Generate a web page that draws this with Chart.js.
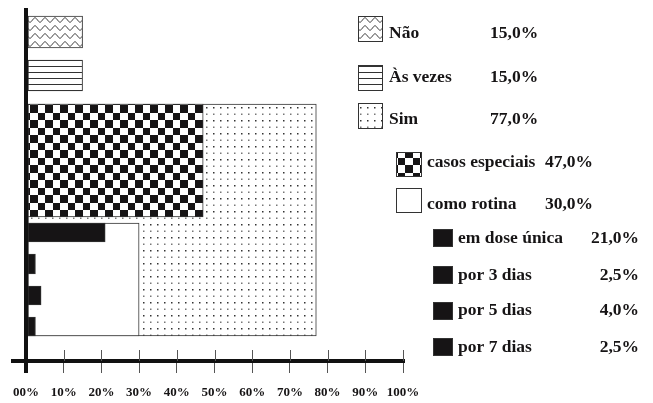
<!DOCTYPE html>
<html>
<head>
<meta charset="utf-8">
<script src="https://cdn.jsdelivr.net/npm/chart.js@4/dist/chart.umd.min.js"></script>
<style>
  body { margin: 0; background: #fff; }
  canvas { display: block; }
</style>
</head>
<body>
<canvas id="chart" width="653" height="403"></canvas>
<script>
const mainLabels = ["Não", "Às vezes", "Sim"];
const mainValues = [15, 15, 77];
const simLabels = ["casos especiais", "como rotina"];
const simValues = [47, 30];
const doseLabels = ["em dose única", "por 3 dias", "por 5 dias", "por 7 dias"];
const doseValues = [21, 2.5, 4, 2.5];
const tickValues = [0, 10, 20, 30, 40, 50, 60, 70, 80, 90, 100];
const tickLabels = ["00%", "10%", "20%", "30%", "40%", "50%", "60%", "70%", "80%", "90%", "100%"];

// row centre and thickness (px) on the hidden y scale, 0 = top of plot
const rows = {
  "Não": [22, 32],
  "Às vezes": [65.5, 31],
  "Sim": [210, 232],
  "casos especiais": [150.5, 113],
  "como rotina": [269.5, 113],
  "em dose única": [222.5, 19],
  "por 3 dias": [254, 20],
  "por 5 dias": [285.5, 19],
  "por 7 dias": [316.5, 19]
};

const FONT = '"Liberation Serif", "Times New Roman", serif';
const INK = "#161415";

function tile(w, h, draw) {
  const c = document.createElement("canvas");
  c.width = w; c.height = h;
  const g = c.getContext("2d");
  g.fillStyle = "#fff";
  g.fillRect(0, 0, w, h);
  draw(g);
  return g.createPattern(c, "repeat");
}

const waves = tile(10, 8, g => {
  g.strokeStyle = "#333"; g.lineWidth = 1;
  g.beginPath();
  for (let x = -1; x <= 11; x += 0.5) {
    const y = 4 + 2.2 * Math.cos(2 * Math.PI * x / 10);
    x === -1 ? g.moveTo(x, y) : g.lineTo(x, y);
  }
  g.stroke();
});
const lines = tile(6, 6, g => { g.fillStyle = "#333"; g.fillRect(0, 0, 6, 1); });
const dots = tile(7, 13, g => {
  g.fillStyle = "#333"; g.fillRect(3, 3, 1.5, 1.5);
  g.fillStyle = "#777"; g.fillRect(3, 9.5, 1.5, 1.5);
});
const checker = tile(15, 15, g => {
  g.fillStyle = INK;
  g.fillRect(0, 0, 8, 8);
  g.fillRect(8, 8, 7, 7);
});

const fills = {
  "Não": waves, "Às vezes": lines, "Sim": dots,
  "casos especiais": checker, "como rotina": "#fff"
};
// lower order is drawn on top
const orders = { "Sim": 3, "casos especiais": 2, "como rotina": 2 };

const datasets = [];
function addGroup(labels, values) {
  labels.forEach((lab, i) => {
    datasets.push({
      label: lab,
      data: [{ x: values[i], y: rows[lab][0] }],
      barThickness: rows[lab][1],
      backgroundColor: fills[lab] || INK,
      borderColor: "#333",
      borderWidth: 1,
      borderSkipped: false,
      grouped: false,
      order: orders[lab] || 1
    });
  });
}
addGroup(mainLabels, mainValues);
addGroup(simLabels, simValues);
addGroup(doseLabels, doseValues);

const legendGroups = [
  { labels: mainLabels, values: mainValues, box: [358, 25, 26], tops: [16, 65, 103], bases: [38, 82, 124], textX: 389, valueX: 490, align: "left" },
  { labels: simLabels, values: simValues, box: [396, 26, 25], tops: [152, 188], bases: [167, 209], textX: 427, valueX: 593, align: "right" },
  { labels: doseLabels, values: doseValues, box: [433, 20, 18], tops: [229, 266, 302, 338], bases: [243, 280, 315, 352], textX: 458, valueX: 639, align: "right" }
];

const sideLegend = {
  id: "sideLegend",
  afterDraw(chart) {
    const ctx = chart.ctx;
    ctx.save();
    ctx.font = "bold 17.5px " + FONT;
    ctx.textBaseline = "alphabetic";
    legendGroups.forEach(grp => {
      const [bx, bw, bh] = grp.box;
      grp.labels.forEach((lab, i) => {
        const ds = chart.data.datasets.find(d => d.label === lab);
        ctx.fillStyle = ds.backgroundColor;
        ctx.fillRect(bx, grp.tops[i], bw, bh);
        ctx.strokeStyle = "#333";
        ctx.lineWidth = 1;
        ctx.strokeRect(bx + 0.5, grp.tops[i] + 0.5, bw - 1, bh - 1);
        ctx.fillStyle = INK;
        ctx.textAlign = "left";
        ctx.fillText(lab, grp.textX, grp.bases[i]);
        ctx.textAlign = grp.align;
        ctx.fillText(grp.values[i].toFixed(1).replace(".", ",") + "%", grp.valueX, grp.bases[i]);
      });
    });
    ctx.restore();
  }
};

// small tick stubs above the x axis line
const tickStubs = {
  id: "tickStubs",
  afterDraw(chart) {
    const ctx = chart.ctx, xs = chart.scales.x, bottom = chart.chartArea.bottom;
    ctx.save();
    ctx.strokeStyle = "#555";
    ctx.lineWidth = 1;
    xs.ticks.forEach(t => {
      if (t.value === 0) return;
      const px = Math.round(xs.getPixelForValue(t.value)) + 0.5;
      ctx.beginPath();
      ctx.moveTo(px, bottom - 11);
      ctx.lineTo(px, bottom);
      ctx.stroke();
    });
    ctx.restore();
  }
};

new Chart(document.getElementById("chart"), {
  type: "bar",
  data: { datasets },
  options: {
    indexAxis: "y",
    responsive: false,
    animation: false,
    layout: { padding: { left: 13, right: 250, top: 10, bottom: 5 } },
    plugins: { legend: { display: false }, tooltip: { enabled: false } },
    scales: {
      x: {
        type: "linear",
        position: "bottom",
        min: -3.45,
        max: 100,
        afterBuildTicks: s => { s.ticks = tickValues.map(v => ({ value: v })); },
        afterFit: s => { s.height = 37; },
        ticks: {
          autoSkip: false,
          maxRotation: 0,
          padding: 12,
          color: INK,
          font: { family: FONT, size: 13, weight: "bold" },
          callback: (v, i) => tickLabels[i]
        },
        grid: {
          drawOnChartArea: false,
          tickLength: 12,
          color: ctx => ctx.index === 0 ? "#111" : "#555",
          lineWidth: ctx => ctx.index === 0 ? 4 : 1
        },
        border: { display: true, width: 4, color: "#111", z: 1 }
      },
      y: {
        type: "linear",
        position: { x: 0 },
        reverse: true,
        offset: false,
        min: 0,
        max: 351,
        ticks: { display: false },
        grid: { display: false },
        border: { display: true, width: 4, color: "#111", z: 1 }
      }
    }
  },
  plugins: [sideLegend, tickStubs]
});
</script>
</body>
</html>
